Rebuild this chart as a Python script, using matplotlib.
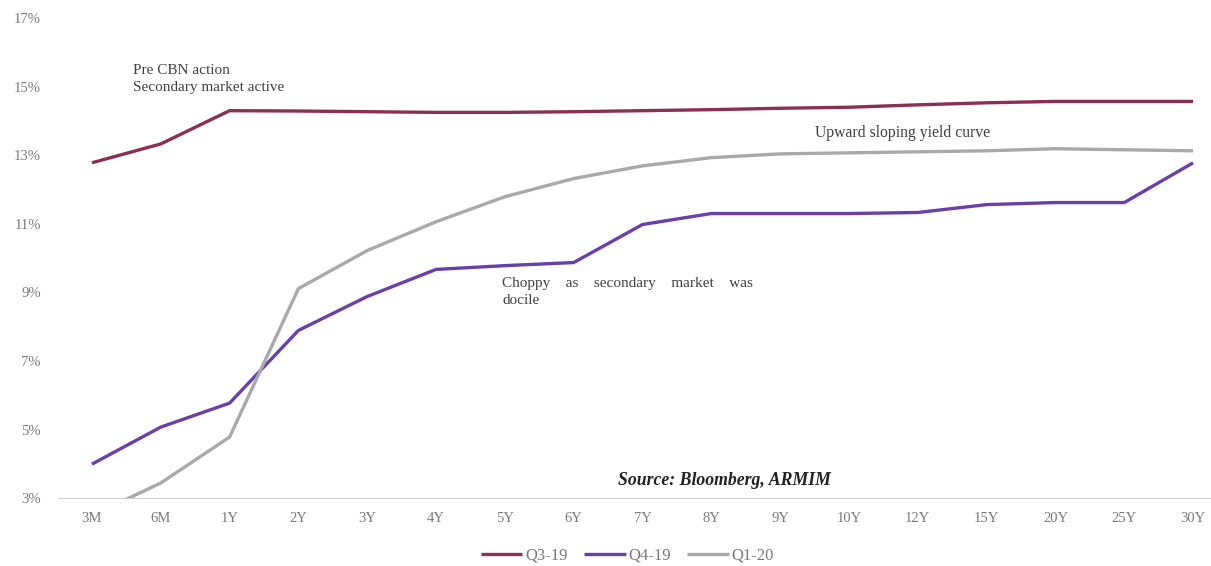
import matplotlib.pyplot as plt

tenors = ['3M', '6M', '1Y', '2Y', '3Y', '4Y', '5Y', '6Y', '7Y', '8Y', '9Y',
          '10Y', '12Y', '15Y', '20Y', '25Y', '30Y']
q3_19 = [12.78, 13.33, 14.30, 14.29, 14.27, 14.25, 14.25, 14.27, 14.30, 14.33,
         14.37, 14.40, 14.47, 14.53, 14.57, 14.57, 14.57]
q4_19 = [3.99, 5.07, 5.77, 7.89, 8.88, 9.67, 9.78, 9.87, 10.98, 11.30,
         11.30, 11.30, 11.33, 11.56, 11.62, 11.62, 12.78]
q1_20 = [2.49, 3.44, 4.78, 9.11, 10.22, 11.06, 11.79, 12.32, 12.69, 12.93,
         13.04, 13.07, 13.10, 13.13, 13.19, 13.16, 13.13]
yticks = [3, 5, 7, 9, 11, 13, 15, 17]

plt.rcParams['font.family'] = ['Liberation Serif', 'DejaVu Serif']

fig = plt.figure(figsize=(12.11, 5.66), dpi=100)
ax = fig.add_axes([0.0475, 0.120, 0.9525, 0.848])

x = range(len(tenors))
ax.plot(x, q3_19, color='#8C2F55', lw=2.4, label='Q3-19', solid_capstyle='butt')
ax.plot(x, q4_19, color='#6B3FAA', lw=2.4, label='Q4-19', solid_capstyle='butt')
ax.plot(x, q1_20, color='#A9A9A9', lw=2.4, label='Q1-20', solid_capstyle='butt')

ax.set_xlim(-0.5, 16.26)
ax.set_ylim(3, 17)
ax.set_xticks(list(x))
ax.set_xticklabels(tenors)
ax.set_yticks(yticks)
ax.set_yticklabels([f'{v}%' for v in yticks])
ax.tick_params(length=0, labelsize=10.5, colors='#7a7a7a', pad=10)
ax.tick_params(axis='y', pad=12)

for s in ['top', 'right', 'left']:
    ax.spines[s].set_visible(False)
ax.spines['bottom'].set_color('#d0d0d0')

# Annotations
ax.text(0.6, 15.65, 'Pre CBN action\nSecondary market active', fontsize=11,
        color='#404040', va='top', linespacing=1.4)
ax.text(10.5, 13.65, 'Upward sloping yield curve', fontsize=11.3,
        color='#404040', va='center')
ax.text(5.96, 9.45, 'Choppy    as    secondary    market    was\ndocile', fontsize=11,
        color='#404040', va='top', linespacing=1.4)
ax.text(7.65, 3.5, 'Source: Bloomberg, ARMIM', fontsize=12.8, style='italic',
        weight='bold', color='#222222', va='center')

leg = fig.legend(loc='lower center', ncol=3, frameon=False, fontsize=12,
                 bbox_to_anchor=(0.518, -0.022), handlelength=2.5,
                 columnspacing=1.0, handletextpad=0.15)
for t in leg.get_texts():
    t.set_color('#7a7a7a')

fig.savefig('out.png', dpi=100)
